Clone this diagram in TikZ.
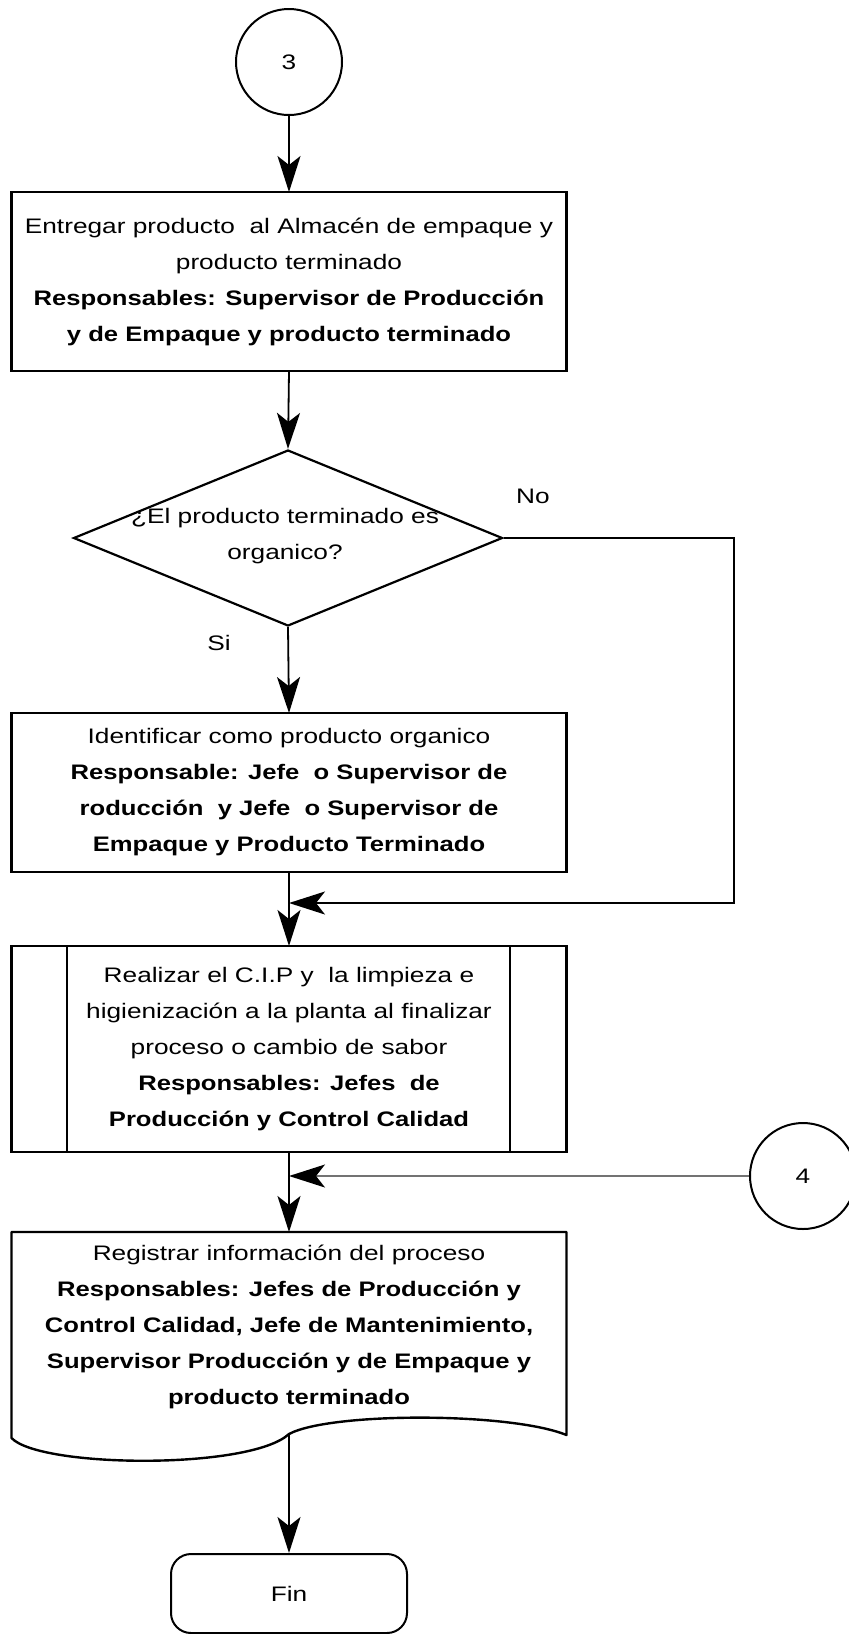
\documentclass[tikz,border=0pt]{standalone}
\usepackage{fontspec}
\setmainfont{Liberation Sans}[UprightFeatures={FakeStretch=1.25}, BoldFeatures={FakeStretch=1.22}]
\usetikzlibrary{arrows.meta,shapes.geometric}
\begin{document}
\begin{tikzpicture}[x=1pt,y=-1pt,
  txt/.style={font=\fontsize{21}{36}\selectfont, align=center},
  boxstyle/.style={draw, line width=2.4pt, outer sep=0pt, inner sep=0pt, minimum width=555pt},
  circ/.style={circle, draw, line width=2pt, minimum size=106pt, inner sep=0pt, font=\fontsize{21}{24}\selectfont},
  tip/.style={-{Stealth[length=36pt, width=23pt, inset=9pt, color=black]}},
  arr/.style={line width=1.8pt, tip},
  grayarr/.style={line width=1.6pt, draw=black!55, tip}]
\useasboundingbox (0,0) rectangle (849,1634);

% connector 3 and first task
\node[circ] (c3) at (289,62) {3};
\node[boxstyle, txt, minimum height=179pt] (b1) at (289,281.5)
  {Entregar producto~ al Almacén de empaque y\\producto terminado\\
   \textbf{Responsables: Supervisor de Producción}\hspace*{14pt}\\
   \textbf{y de Empaque y producto terminado}};

% decision
\node[diamond, draw, line width=2.2pt, inner sep=0pt, minimum width=429pt, minimum height=176pt] (d) at (288,538) {};
\node[txt, inner sep=0pt] (dt) at (285,536) {¿El producto terminado es\\organico?};
\node[txt, inner sep=0pt] (no) at (533,496) {No};
\node[txt, inner sep=0pt] (si) at (219,643) {Si};

% organic product branch
\node[boxstyle, txt, minimum height=159pt] (b2) at (289,792.5)
  {Identificar como producto organico\\
   \textbf{Responsable: Jefe~ o Supervisor de}\\
   \textbf{roducción~ y Jefe~ o Supervisor de}\\
   \textbf{Empaque y Producto Terminado}};

% predefined process: cleaning
\node[boxstyle, txt, minimum height=206pt] (b3) at (289,1049)
  {Realizar el C.I.P y~ la limpieza e\\higienización a la planta al finalizar\\
   proceso o cambio de sabor\\
   \textbf{Responsables: Jefes~ de}\\
   \textbf{Producción y Control Calidad}};
\draw[line width=2pt] ([xshift=55pt]b3.north west) -- ([xshift=55pt]b3.south west);
\draw[line width=2pt] ([xshift=-57pt]b3.north east) -- ([xshift=-57pt]b3.south east);

% connector 4
\node[circ] (c4) at (803,1176) {4};

% document: process record
\coordinate (b4n) at (289,1232);
\coordinate (w) at (289,1434);
\draw[line width=2.4pt, line join=round]
  (11.5,1232) -- (566.5,1232) -- (566.5,1435)
  .. controls (510,1412) and (330,1412) .. (w)
  .. controls (250,1470) and (40,1468) .. (11.5,1438) -- cycle;
\node[txt, inner sep=0pt] (t4) at (289,1326.5)
  {Registrar información del proceso\\
   \textbf{Responsables: Jefes de Producción y}\\
   \textbf{Control Calidad, Jefe de Mantenimiento,}\\
   \textbf{Supervisor Producción y de Empaque y}\\
   \textbf{producto terminado}};

% terminator
\node[draw, rounded corners=20pt, line width=2pt, minimum width=236pt, minimum height=79pt, txt] (fin) at (289,1593.5) {Fin};

% connectors
\coordinate (j1) at (289,903);
\coordinate (nc) at (734,903);
\coordinate (j2) at (289,1176);
\draw[arr] (c3.south) -- (b1.north);
\draw[arr] (b1.south) -- (d.north);
\draw[arr] (d.south) -- (b2.north);
\draw[arr] (d.east) -| (nc) -- (j1);
\draw[arr] (b2.south) -- (b3.north);
\draw[grayarr] (c4.west) -- (j2);
\draw[arr] (b3.south) -- (b4n);
\draw[arr] (w) -- (fin.north);
\end{tikzpicture}
\end{document}
